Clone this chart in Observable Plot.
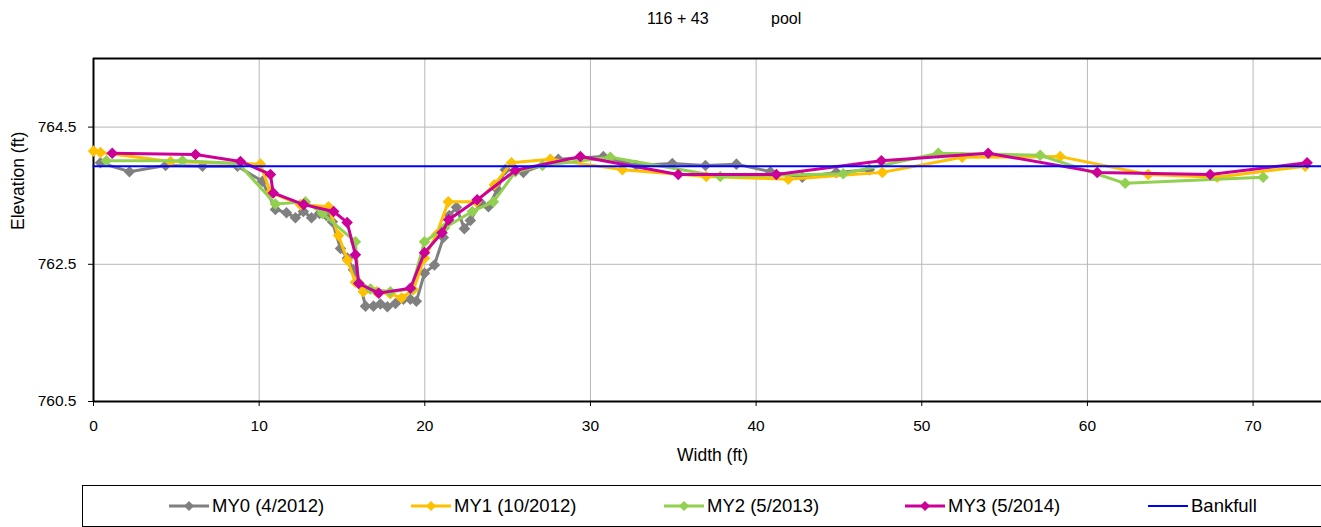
<!DOCTYPE html>
<html>
<head>
<meta charset="utf-8">
<script src="https://cdn.jsdelivr.net/npm/d3@7"></script>
<script src="https://cdn.jsdelivr.net/npm/@observablehq/plot@0.6"></script>
<style>
  body { margin: 0; background: #fff; font-family: "Liberation Sans", Arial, sans-serif; color: #000; }
  #wrap { position: relative; width: 1321px; height: 527px; overflow: hidden; background: #fff; }
  #title { position: absolute; top: 10px; left: 0; width: 1321px; height: 20px; font-size: 16px; }
  #title span { position: absolute; white-space: pre; }
  #chart { position: absolute; top: 40px; left: 0; }
  #legend { position: absolute; left: 82px; top: 485px; width: 1300px; height: 42px;
            border: 1.5px solid #000; box-sizing: border-box; background: #fff; }
  .item { position: absolute; top: 9px; height: 22px; display: flex; align-items: center;
          font-size: 18.5px; white-space: nowrap; }
  .item svg { margin-right: 3px; }
</style>
</head>
<body>
<div id="wrap">
  <div id="title"><span style="left:647px">116 + 43</span><span style="left:771px">pool</span></div>
  <div id="chart"></div>
  <div id="legend"></div>
</div>
<script>
// Cross-section survey: distance across the channel (ft) and bed elevation (ft)
const my0X = [0.42, 2.17, 4.35, 6.58, 8.69, 10.2, 10.98, 11.65, 12.19, 12.67, 13.16, 13.64, 14.06, 14.42, 14.91, 15.33, 15.69, 16.11, 16.42, 16.9, 17.32, 17.74, 18.23, 18.71, 19.13, 19.49, 19.98, 20.58, 21.12, 21.48, 21.91, 22.39, 22.75, 23.36, 23.84, 24.38, 24.86, 25.95, 28.06, 30.78, 32.77, 34.94, 36.94, 38.81, 40.86, 42.79, 44.84, 46.83];
const my0Y = [763.98, 763.85, 763.94, 763.93, 763.93, 763.71, 763.30, 763.25, 763.18, 763.27, 763.18, 763.24, 763.21, 763.12, 762.73, 762.59, 762.42, 762.20, 761.89, 761.89, 761.92, 761.88, 761.93, 761.99, 761.99, 761.96, 762.37, 762.49, 762.89, 763.21, 763.33, 763.02, 763.14, 763.40, 763.34, 763.59, 763.88, 763.84, 764.03, 764.07, 763.94, 763.97, 763.94, 763.96, 763.85, 763.77, 763.84, 763.88];

const my1X = [0, 0.42, 4.65, 10.08, 10.68, 12.49, 14.18, 14.79, 15.33, 15.81, 16.29, 17.08, 17.92, 18.59, 19.31, 19.98, 20.7, 21.42, 23.11, 24.2, 25.23, 27.58, 31.93, 36.99, 41.94, 47.62, 52.44, 58.36, 63.67, 67.83, 73.15];
const my1Y = [764.15, 764.13, 764.00, 763.96, 763.55, 763.37, 763.34, 762.92, 762.56, 762.24, 762.10, 762.10, 762.07, 762.01, 762.13, 762.59, 762.93, 763.41, 763.41, 763.66, 763.98, 764.03, 763.88, 763.78, 763.74, 763.84, 764.06, 764.07, 763.81, 763.77, 763.93];

const my2X = [0.78, 5.37, 8.75, 10.98, 12.79, 13.82, 15.81, 15.99, 16.72, 17.92, 19.19, 19.98, 21.18, 22.87, 24.14, 25.47, 27.1, 31.2, 37.84, 45.26, 51.0, 57.15, 62.28, 70.61];
const my2Y = [764.01, 764.01, 763.97, 763.38, 763.41, 763.24, 762.83, 762.24, 762.14, 762.10, 762.14, 762.83, 763.03, 763.27, 763.41, 763.85, 763.94, 764.06, 763.78, 763.82, 764.12, 764.09, 763.68, 763.77];

const my3X = [1.13, 6.16, 8.87, 10.68, 10.85, 12.69, 14.5, 15.31, 15.81, 16.01, 17.22, 19.13, 19.98, 21.04, 21.44, 23.16, 25.47, 29.39, 35.3, 41.22, 47.56, 54.01, 60.59, 67.41, 73.26];
const my3Y = [764.12, 764.10, 764.00, 763.81, 763.54, 763.37, 763.27, 763.11, 762.64, 762.22, 762.08, 762.15, 762.67, 762.96, 763.15, 763.44, 763.87, 764.07, 763.81, 763.81, 764.01, 764.12, 763.84, 763.81, 763.98];

const bankfullX = [0, 74.13];
const bankfullY = [763.93, 763.93];

const seriesNames = ["MY0 (4/2012)", "MY1 (10/2012)", "MY2 (5/2013)", "MY3 (5/2014)"];
const seriesColors = ["#808080", "#FFC000", "#92D050", "#CC0099"];
const bankfullName = "Bankfull";
const bankfullColor = "#0000FF";

const xTicks = [0, 10, 20, 30, 40, 50, 60, 70];
const yTicks = [760.5, 762.5, 764.5];
const xDomain = [0, 74.13];
const yDomain = [760.5, 765.5];

const toRows = (xs, ys) => xs.map((x, i) => ({x, y: ys[i]}));
const series = [toRows(my0X, my0Y), toRows(my1X, my1Y), toRows(my2X, my2Y), toRows(my3X, my3Y)];
const bankfull = toRows(bankfullX, bankfullY);

const seriesMarks = series.flatMap((rows, i) => [
  Plot.line(rows, {x: "x", y: "y", stroke: seriesColors[i], strokeWidth: 3}),
  Plot.dot(rows, {x: "x", y: "y", symbol: "diamond2", r: 5.2, fill: seriesColors[i], stroke: "none"})
]);

const chart = Plot.plot({
  width: 1321,
  height: 445,
  marginTop: 18,
  marginBottom: 84,
  marginLeft: 93,
  marginRight: 0,
  x: {domain: xDomain},
  y: {domain: yDomain},
  style: {fontFamily: "'Liberation Sans', Arial, sans-serif", fontSize: "15px", color: "#000", background: "#fff", overflow: "visible"},
  marks: [
    Plot.gridX(xTicks, {stroke: "#b8b8b8", strokeOpacity: 1, strokeWidth: 1}),
    Plot.gridY(yTicks, {stroke: "#b8b8b8", strokeOpacity: 1, strokeWidth: 1}),
    Plot.ruleY([yDomain[0], yDomain[1]], {stroke: "#000", strokeWidth: 2}),
    Plot.ruleX([xDomain[0]], {stroke: "#000", strokeWidth: 2}),
    Plot.axisX(xTicks, {tickSize: 5, tickPadding: 13, label: null, tickFormat: d => String(d), fontSize: 15.5}),
    Plot.axisY(yTicks, {tickSize: 5, tickPadding: 12, label: null, tickFormat: d => d.toFixed(1), fontSize: 15.5}),
    ...seriesMarks,
    Plot.line(bankfull, {x: "x", y: "y", stroke: bankfullColor, strokeWidth: 2}),
    Plot.text(["Width (ft)"], {text: d => d, frameAnchor: "bottom", dx: 5, dy: 59, fontSize: 17.5}),
    Plot.text(["Elevation (ft)"], {text: d => d, frameAnchor: "left", dx: -75, rotate: -90, fontSize: 17.5})
  ]
});
document.getElementById("chart").appendChild(chart);

// Legend: line-with-marker swatches for each survey, plain line for bankfull
const legendLeft = [168, 410, 663, 904, 1147];
const legend = document.getElementById("legend");
const entries = seriesNames.map((name, i) => ({name, color: seriesColors[i], marker: true}))
  .concat([{name: bankfullName, color: bankfullColor, marker: false}]);
entries.forEach((e, i) => {
  const div = document.createElement("div");
  div.className = "item";
  div.style.left = (legendLeft[i] - 82) + "px";
  const marker = e.marker ? `<path d="M20,3 L25,8 L20,13 L15,8 Z" fill="${e.color}"/>` : "";
  div.innerHTML = `<svg width="40" height="16" viewBox="0 0 40 16"><line x1="0" x2="40" y1="8" y2="8" stroke="${e.color}" stroke-width="${e.marker ? 3 : 2}"/>${marker}</svg><span>${e.name}</span>`;
  legend.appendChild(div);
});
</script>
</body>
</html>
